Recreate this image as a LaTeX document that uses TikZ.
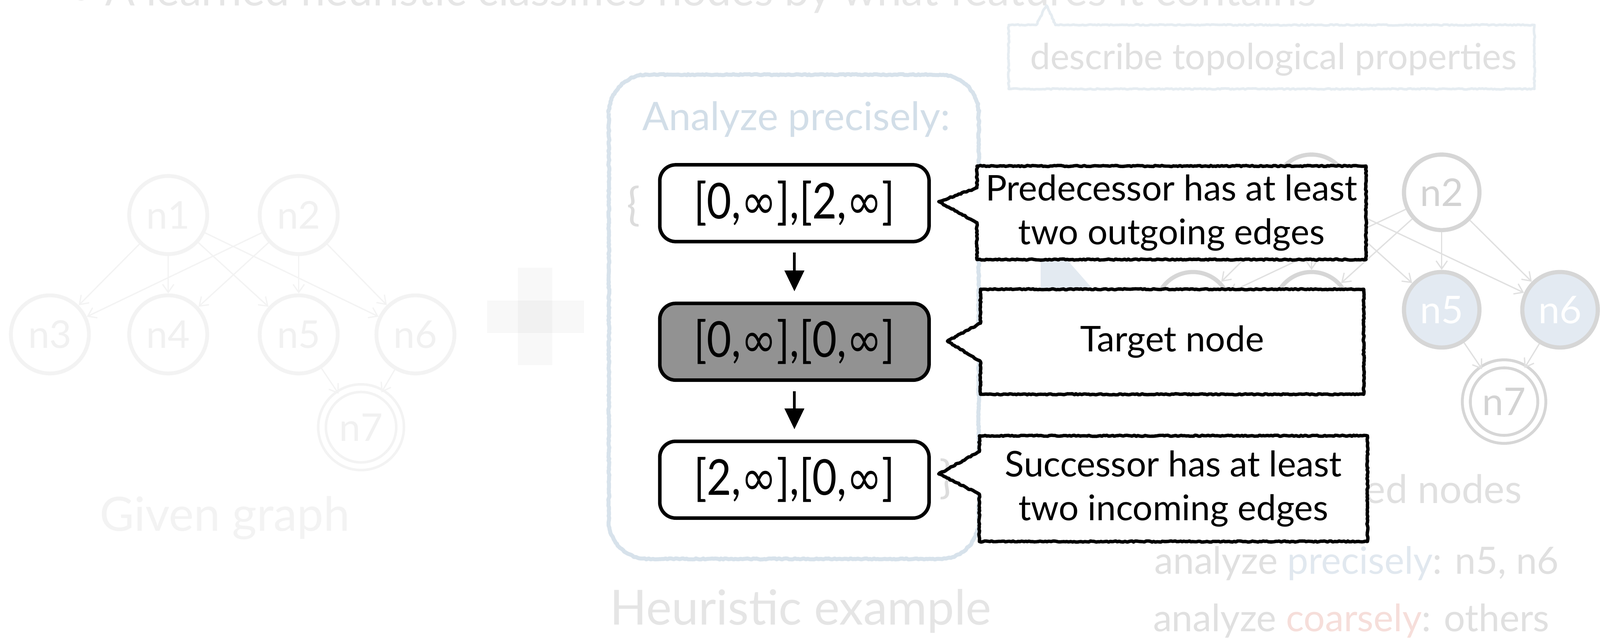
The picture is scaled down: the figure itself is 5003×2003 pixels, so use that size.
\documentclass[tikz,border=0pt]{standalone}
\usepackage{fontspec}
\setmainfont{Lato}
\newfontfamily\dejavu{DejaVu Sans}
\usetikzlibrary{arrows.meta,decorations.pathmorphing,calc}
\definecolor{titlegray}{HTML}{E6E6E6}
\definecolor{ghost}{HTML}{F3F3F3}
\definecolor{ghosttext}{HTML}{F1F1F1}
\definecolor{plusA}{HTML}{F8F8F8}
\definecolor{plusB}{HTML}{F1F1F1}
\definecolor{outerblue}{HTML}{D7E2EB}
\definecolor{anablue}{HTML}{D2DEE8}
\definecolor{bracegray}{HTML}{DCDCDC}
\definecolor{heurgray}{HTML}{E5E5E5}
\definecolor{rstroke}{HTML}{D6D6D6}
\definecolor{redge}{HTML}{E0E0E0}
\definecolor{rfill}{HTML}{E3EAF2}
\definecolor{rtext}{HTML}{D3D3D3}
\definecolor{shapeblue}{HTML}{E3EAF1}
\definecolor{descline}{HTML}{E5ECF1}
\definecolor{desctext}{HTML}{E0E0E0}
\definecolor{lightgray2}{HTML}{E0E0E0}
\definecolor{precblue}{HTML}{E1E8EF}
\definecolor{coarsered}{HTML}{F6DEDA}
\definecolor{targetfill}{HTML}{929292}
\newcommand\infsym{{\dejavu ∞}}
\newcommand\ivtext[1]{\scalebox{0.86}[1]{#1}}
\pgfdeclarelayer{front}
\pgfsetlayers{main,front}
\tikzset{
  gnode/.style={circle, draw=ghost, line width=1.2mm, minimum size=24.4mm, inner sep=0pt,
     text=ghosttext, font=\fontsize{34}{40}\selectfont},
  gedge/.style={draw=ghost, line width=0.4mm, -{Straight Barb[length=2.5mm,width=3.5mm]}},
  rnode/.style={circle, draw=rstroke, line width=1.3mm, minimum size=23.6mm, inner sep=0pt,
     fill=white, text=rtext, font=\fontsize{34}{40}\selectfont},
  rsel/.style={rnode, fill=rfill, text=white},
  redgestyle/.style={draw=redge, line width=0.4mm, -{Straight Barb[length=2.5mm,width=3.5mm]}},
  sketch/.style={decorate, decoration={random steps, segment length=1.6pt, amplitude=0.5pt}},
  ivbox/.style={draw=black, line width=1.1mm, rounded corners=5mm, minimum width=84.2mm,
     minimum height=24mm, inner sep=0pt, fill=white, font=\fontsize{44}{50}\selectfont},
  flowarrow/.style={draw=black, line width=0.9mm, -{Triangle[length=6.5mm,width=6mm]},
     shorten <=2.9mm, shorten >=3.2mm},
  callouttext/.style={inner sep=0pt, align=center, font=\fontsize{31.5}{39}\selectfont},
  calloutline/.style={sketch, draw=black, fill=white, line width=1.05mm, line join=round},
  label/.style={anchor=base west, inner sep=0pt},
}
\begin{document}
\begin{tikzpicture}[x=0.1mm,y=-0.1mm]
\useasboundingbox (0,0) rectangle (5003,2003);
\fill[white] (0,0) rectangle (5003,2003);

% title, cut off at the top edge
\begin{scope}
\clip (0,0) rectangle (5003,2003);
\node[label, text=titlegray, font=\fontsize{39}{44}\selectfont] (title) at (214,18)
  {• A learned heuristic classifies nodes by what features it contains};
\end{scope}

% ---------- given graph (faded) ----------
\node[gnode] (g1) at (526,672) {n1};
\node[gnode] (g2) at (934,672) {n2};
\node[gnode] (g3) at (156,1045) {n3};
\node[gnode] (g4) at (526,1045) {n4};
\node[gnode] (g5) at (934,1045) {n5};
\node[gnode] (g6) at (1299,1045) {n6};
\node[gnode, double=white, double distance=1.6mm, line width=0.8mm] (g7) at (1129,1335) {n7};
\foreach \a/\b in {g1/g3,g1/g4,g1/g5,g1/g6,g2/g3,g2/g4,g2/g5,g2/g6,g5/g7,g6/g7}
  \draw[gedge] (\a) -- (\b);
\node[label, text=ghost, font=\fontsize{42}{48}\selectfont] (given) at (311,1659) {Given graph};

% plus sign
\fill[plusA] (1523,939) rectangle (1826,1041);
\fill[plusA] (1619,837) rectangle (1727,1141);
\fill[plusB] (1619,939) rectangle (1727,1041);

% ---------- right graph (faded) ----------
\node[rnode] (r1) at (4101,601) {n1};
\node[rnode] (r2) at (4508,601) {n2};
\node[rnode] (r3) at (3730,968) {n3};
\node[rnode] (r4) at (4101,968) {n4};
\node[rsel] (r5) at (4508,968) {n5};
\node[rsel] (r6) at (4878,968) {n6};
\node[rnode, double=white, double distance=1.6mm, line width=0.9mm] (r7) at (4703,1255) {n7};
\foreach \a/\b in {r1/r3,r1/r4,r1/r5,r1/r6,r2/r3,r2/r4,r2/r5,r2/r6,r5/r7,r6/r7}
  \draw[redgestyle] (\a) -- (\b);
\node[anchor=base east, inner sep=0pt, text=lightgray2, font=\fontsize{35}{40}\selectfont] (classified) at (4759,1573) {Classified nodes};

% faint block-arrow head between the graphs
\fill[shapeblue] (3254,718) -- (3560,1066) -- (3254,1230) -- cycle;

% describe topological properties
\node[label, text=desctext, font=\fontsize{32}{38}\selectfont] (desc) at (3221,217) {describe topological properties};
\draw[sketch, draw=descline, line width=0.8mm, line join=round]
  (3154,78) -- (3240,78) -- (3272,17) -- (3300,78) -- (4798,78) -- (4798,278) -- (3154,278) -- cycle;

\node[label, font=\fontsize{33.5}{38}\selectfont] (prec) at (3609,1794)
  {\textcolor{lightgray2}{analyze }\textcolor{precblue}{precisely}\textcolor{lightgray2}{: n5, n6}};
\node[label, font=\fontsize{33.5}{38}\selectfont] (coarse) at (3605,1973)
  {\textcolor{lightgray2}{analyze }\textcolor{coarsered}{coarsely}\textcolor{lightgray2}{: others}};

% ---------- heuristic example ----------
\node[minimum width=115.5mm, minimum height=151.2mm, inner sep=0pt] (outer) at (2482,990) {};
\draw[sketch, draw=outerblue, line width=1.25mm, line join=round]
  {[rounded corners=12mm] (outer.north west) rectangle (outer.south east)};
\node[label, text=anablue, font=\fontsize{35}{40}\selectfont] (analyze) at (2008,407) {Analyze precisely:};
\node[label, text=heurgray, font=\fontsize{43}{48}\selectfont] (heur) at (1907,1953) {Heuristic example};
\node[text=bracegray, inner sep=0pt, font=\fontsize{40}{48}\selectfont] (lbrace) at (1981,645) {\{};
\node[text=bracegray, inner sep=0pt, font=\fontsize{40}{48}\selectfont] (rbrace) at (2958,1497) {\}};

\node[ivbox] (b1) at (2484,635) {\ivtext{[0,\infsym],[2,\infsym]}};
\node[ivbox, fill=targetfill] (b2) at (2484,1068) {\ivtext{[0,\infsym],[0,\infsym]}};
\node[ivbox] (b3) at (2484,1499) {\ivtext{[2,\infsym],[0,\infsym]}};
\draw[flowarrow] (b1) -- (b2);
\draw[flowarrow] (b2) -- (b3);

% ---------- callouts ----------
\begin{pgfonlayer}{front}
\node[callouttext, minimum width=121.5mm, minimum height=29.1mm] (c1) at (3663,665)
  {Predecessor has at least\\two outgoing edges};
\node[callouttext, minimum width=119.7mm, minimum height=32.7mm] (c2) at (3665,1068)
  {Target node};
\node[callouttext, minimum width=121.2mm, minimum height=32.9mm] (c3) at (3669,1527)
  {Successor has at least\\two incoming edges};
\end{pgfonlayer}
\coordinate (t1) at ($(b1.east)+(25,-5)$);
\coordinate (t2) at ($(b2.east)+(52,-2)$);
\coordinate (t3) at ($(b3.east)+(25,-18)$);
\filldraw[calloutline] (c1.north west) -- (c1.north east) -- (c1.south east) -- (c1.south west)
  -- ($(c1.west)+(0,31)$) -- (t1) -- ($(c1.west)+(0,-78)$) -- cycle;
\filldraw[calloutline] (c2.north west) -- (c2.north east) -- (c2.south east) -- (c2.south west)
  -- ($(c2.west)+(0,62)$) -- (t2) -- ($(c2.west)+(0,-58)$) -- cycle;
\filldraw[calloutline] (c3.north west) -- (c3.north east) -- (c3.south east) -- (c3.south west)
  -- ($(c3.west)+(0,17)$) -- (t3) -- ($(c3.west)+(0,-116)$) -- cycle;
\end{tikzpicture}
\end{document}
